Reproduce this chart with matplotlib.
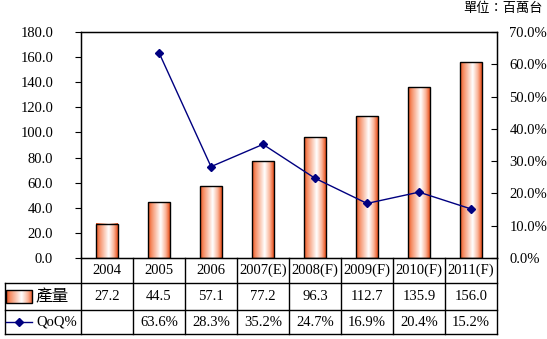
import numpy as np
import matplotlib.pyplot as plt
from matplotlib.colors import LinearSegmentedColormap
from matplotlib.patches import Rectangle

# data
years = ['2004', '2005', '2006', '2007(E)', '2008(F)', '2009(F)', '2010(F)', '2011(F)']
output = [27.2, 44.5, 57.1, 77.2, 96.3, 112.7, 135.9, 156.0]
qoq = [None, 63.6, 28.3, 35.2, 24.7, 16.9, 20.4, 15.2]
qoq_labels = ['', '63.6%', '28.3%', '35.2%', '24.7%', '16.9%', '20.4%', '15.2%']

plt.rcParams['font.family'] = ['Liberation Serif', 'Noto Sans CJK TC']
plt.rcParams['font.size'] = 10.5

W, H = 547, 339
fig = plt.figure(figsize=(W / 100, H / 100), dpi=100)

def px_axes(x0, y0, x1, y1):
    # rectangle in pixel coords (top-left origin) -> figure fraction
    return fig.add_axes([x0 / W, 1 - y1 / H, (x1 - x0) / W, (y1 - y0) / H])

left, right, top, bottom = 81, 497, 32, 258
ax = px_axes(left, top, right, bottom)
n = len(years)
x = np.arange(n)
ax.set_yticks(np.arange(0, 181, 20))
ax.set_yticklabels([f'{v:.1f}' for v in np.arange(0, 181, 20)])
ax.set_xticks([])
ax.tick_params(axis='y', direction='out', length=4, pad=16)
for s in ax.spines.values():
    s.set_linewidth(1.0)

# orange-white-orange gradient bars
cmap = LinearSegmentedColormap.from_list(
    'bar', [(0, '#E9501C'), (0.15, '#F58D64'), (0.58, '#FFFFFF'), (0.82, '#FAB397'), (1, '#E9501C')])
grad = np.linspace(0, 1, 64).reshape(1, -1)
bw = 0.42
bars = ax.bar(x, output, width=bw, facecolor='none', edgecolor='black', linewidth=1.0, zorder=3)
for b in bars:
    bx, by = b.get_x(), b.get_y()
    im = ax.imshow(grad, cmap=cmap, aspect='auto', extent=(bx, bx + b.get_width(), by, by + b.get_height()),
                   zorder=2, interpolation='bilinear')
ax.set_xlim(-0.5, n - 0.5)
ax.set_ylim(0, 180)

ax2 = ax.twinx()
qx = [i for i, v in enumerate(qoq) if v is not None]
qy = [v for v in qoq if v is not None]
ax2.plot(qx, qy, color='#000080', linewidth=1.0, marker='D', markersize=4, zorder=4)
ax2.set_ylim(0, 70)
ax2.set_yticks(np.arange(0, 71, 10))
ax2.set_yticklabels([f'{v:.1f}%' for v in np.arange(0, 71, 10)])
ax2.tick_params(axis='y', direction='in', length=4, pad=9)

# data table below the plot
tleft, tbot = 5, 334
rows_y = [258, 283, 310, tbot]
cw = (right - left) / n
tab = px_axes(tleft, bottom, right, tbot)
x0, x1 = -0.5 - (left - tleft) / cw, n - 0.5
tab.axis('off')
lk = dict(color='black', linewidth=1.0, clip_on=False)
for yv in rows_y[1:]:
    tab.plot([x0, x1], [yv, yv], **lk)
for i in range(n + 1):
    tab.plot([i - 0.5, i - 0.5], [bottom, tbot], **lk)
tab.plot([x0, x0], [rows_y[1], tbot], **lk)

for i in range(n):
    tab.text(i, (rows_y[0] + rows_y[1]) / 2, years[i], ha='center', va='center')
    tab.text(i, (rows_y[1] + rows_y[2]) / 2, f'{output[i]:.1f}', ha='center', va='center')
    tab.text(i, (rows_y[2] + rows_y[3]) / 2, qoq_labels[i], ha='center', va='center')

# legend keys inside the table
cx = lambda p: x0 + (p - tleft) / cw
kx0, kx1 = cx(6), cx(32)
tab.imshow(grad, cmap=cmap, aspect='auto', extent=(kx0, kx1, 303, 290), zorder=2, interpolation='bilinear')
tab.add_patch(Rectangle((kx0, 290), kx1 - kx0, 13, facecolor='none', edgecolor='black', linewidth=1.0, zorder=3))
tab.text(cx(35), 297, '產量', ha='left', va='center', fontsize=12)
tab.plot([cx(6), cx(32)], [322, 322], color='#000080', linewidth=1.0, clip_on=False)
tab.plot([cx(19)], [322], marker='D', color='#000080', markersize=4, clip_on=False)
tab.text(cx(36), 322, 'QoQ%', ha='left', va='center')
tab.set_xlim(x0, x1)
tab.set_ylim(tbot, bottom)

fig.text(543 / W, 1 - 9 / H, '單位：百萬台', ha='right', va='center', fontsize=9.5)

fig.savefig('out.png', dpi=100)
